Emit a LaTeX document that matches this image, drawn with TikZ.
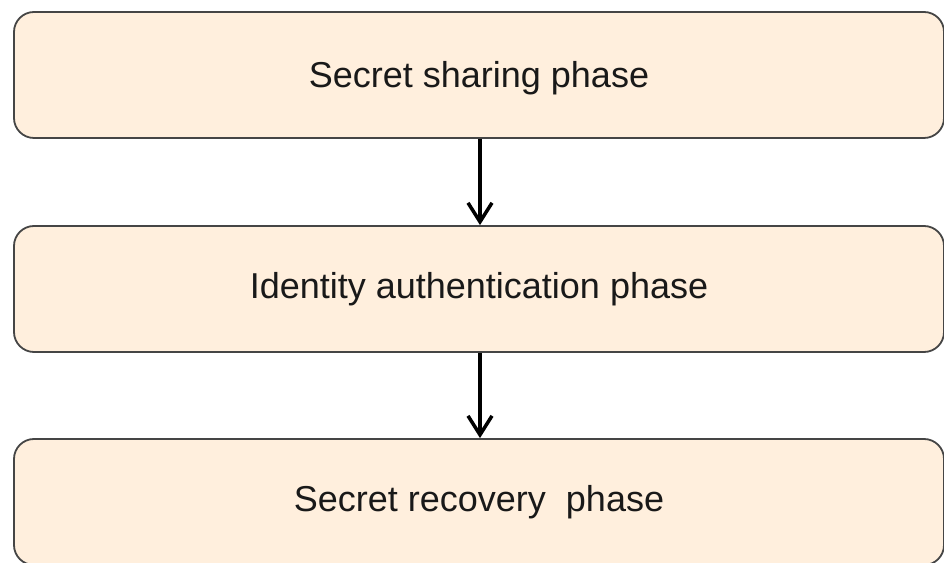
\documentclass[tikz,border=0pt]{standalone}
\usepackage{fontspec}
\setmainfont{Liberation Sans}
\usetikzlibrary{arrows.meta}
\definecolor{phasefill}{HTML}{FFEFDD}
\definecolor{phaseedge}{HTML}{454545}
\tikzset{
  phasebox/.style={draw=phaseedge, fill=phasefill, line width=1.8pt,
    rounded corners=20pt, minimum width=930pt, minimum height=126pt,
    inner sep=0pt, text=black!90, font=\fontsize{36}{43}\selectfont},
  flow/.style={line width=3.5pt, -{Straight Barb[length=19pt,width=24pt,line width=3.5pt]}}
}
\begin{document}
\begin{tikzpicture}[x=1pt,y=1pt]
  \useasboundingbox (0,0) rectangle (944,562);
  \clip (0,0) rectangle (944,562);
  \node[phasebox] (share) at (479,487) {\raisebox{-3.5pt}[\height][\depth]{Secret sharing phase}};
  \node[phasebox] (auth) at (479,273) {Identity authentication phase};
  \node[phasebox] (recover) at (479,60) {Secret recovery\ \ phase};
  \draw[flow] (share.south -| 480,0) -- (auth.north -| 480,0);
  \draw[flow] (auth.south -| 480,0) -- (recover.north -| 480,0);
\end{tikzpicture}
\end{document}
